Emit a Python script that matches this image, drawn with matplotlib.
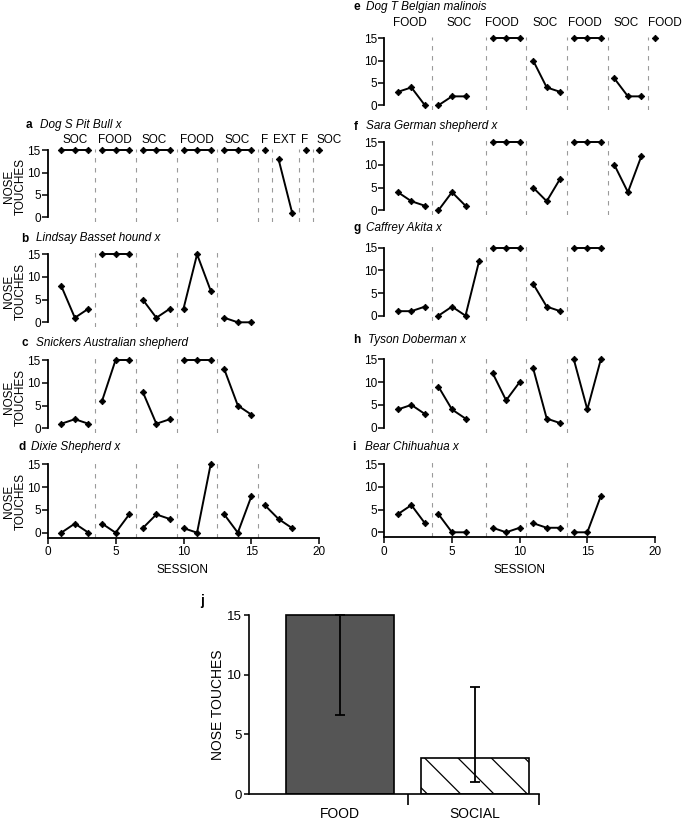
import numpy as np
import matplotlib.pyplot as plt

plt.rcParams['font.family'] = ['Liberation Sans', 'DejaVu Sans']
plt.rcParams['hatch.linewidth'] = 0.9

# ---- data ----
# sessions (grouped by phase) and nose touches per session
sess_a = [[1, 2, 3], [4, 5, 6], [7, 8, 9], [10, 11, 12], [13, 14, 15], [16], [17, 18], [19], [20]]
touch_a = [[15, 15, 15], [15, 15, 15], [15, 15, 15], [15, 15, 15], [15, 15, 15], [15], [13, 1], [15], [15]]
sess_b = [[1, 2, 3], [4, 5, 6], [7, 8, 9], [10, 11, 12], [13, 14, 15]]
touch_b = [[8, 1, 3], [15, 15, 15], [5, 1, 3], [3, 15, 7], [1, 0, 0]]
sess_c = [[1, 2, 3], [4, 5, 6], [7, 8, 9], [10, 11, 12], [13, 14, 15]]
touch_c = [[1, 2, 1], [6, 15, 15], [8, 1, 2], [15, 15, 15], [13, 5, 3]]
sess_d = [[1, 2, 3], [4, 5, 6], [7, 8, 9], [10, 11, 12], [13, 14, 15], [16, 17, 18]]
touch_d = [[0, 2, 0], [2, 0, 4], [1, 4, 3], [1, 0, 15], [4, 0, 8], [6, 3, 1]]
sess_e = [[1, 2, 3], [4, 5, 6], [8, 9, 10], [11, 12, 13], [14, 15, 16], [17, 18, 19], [20]]
touch_e = [[3, 4, 0], [0, 2, 2], [15, 15, 15], [10, 4, 3], [15, 15, 15], [6, 2, 2], [15]]
sess_f = [[1, 2, 3], [4, 5, 6], [8, 9, 10], [11, 12, 13], [14, 15, 16], [17, 18, 19]]
touch_f = [[4, 2, 1], [0, 4, 1], [15, 15, 15], [5, 2, 7], [15, 15, 15], [10, 4, 12]]
sess_g = [[1, 2, 3], [4, 5, 6, 7], [8, 9, 10], [11, 12, 13], [14, 15, 16]]
touch_g = [[1, 1, 2], [0, 2, 0, 12], [15, 15, 15], [7, 2, 1], [15, 15, 15]]
sess_h = [[1, 2, 3], [4, 5, 6], [8, 9, 10], [11, 12, 13], [14, 15, 16]]
touch_h = [[4, 5, 3], [9, 4, 2], [12, 6, 10], [13, 2, 1], [15, 4, 15]]
sess_i = [[1, 2, 3], [4, 5, 6], [8, 9, 10], [11, 12, 13], [14, 15, 16]]
touch_i = [[4, 6, 2], [4, 0, 0], [1, 0, 1], [2, 1, 1], [0, 0, 8]]

# phase boundaries (dashed lines)
bounds_a = [3.5, 6.5, 9.5, 12.5, 15.5, 16.5, 18.5, 19.5]
bounds_bc = [3.5, 6.5, 9.5, 12.5]
bounds_d = [3.5, 6.5, 9.5, 12.5, 15.5]
bounds_e = [3.5, 7.5, 10.5, 13.5, 16.5, 19.5]
bounds_f = [3.5, 7.5, 10.5, 13.5, 16.5]
bounds_ghi = [3.5, 7.5, 10.5, 13.5]

# phase names above panels a and e
phases_a = ["SOC", "FOOD", "SOC", "FOOD", "SOC", "F", "EXT", "F", "SOC"]
phase_x_a = [2.0, 4.95, 7.85, 11.0, 13.95, 15.95, 17.4, 18.9, 20.7]
phases_e = ["FOOD", "SOC", "FOOD", "SOC", "FOOD", "SOC", "FOOD"]
phase_x_e = [1.9, 5.5, 8.7, 11.9, 14.85, 17.9, 20.7]

titles = {
    "a": "Dog S Pit Bull x", "b": "Lindsay Basset hound x",
    "c": "Snickers Australian shepherd", "d": "Dixie Shepherd x",
    "e": "Dog T Belgian malinois", "f": "Sara German shepherd x",
    "g": "Caffrey Akita x", "h": "Tyson Doberman x", "i": "Bear Chihuahua x",
}

# summary panel j
categories = ["FOOD", "SOCIAL"]
medians = [15, 3]
lower = [6.6, 1]
upper = [15, 9]

# ---- layout (pixels) ----
W, H = 685, 822
FS = 8.5
fig = plt.figure(figsize=(W / 100, H / 100), dpi=100)


def panel_rect(x0, x20, y15, y0, ylo=-1.1, yhi=16.0):
    u = (y0 - y15) / 15.0
    top = y15 - (yhi - 15) * u
    bot = y0 - ylo * u
    return [x0 / W, 1 - bot / H, (x20 - x0) / W, (bot - top) / H]


def draw_panel(rect, sess, touch, bounds, bottom_axis):
    ax = fig.add_axes(rect)
    ax.set_xlim(0, 20)
    ax.set_ylim(-1.1, 16)
    for b in bounds:
        ax.plot([b, b], [-1.1, 15.4], color="#9a9a9a", lw=0.8,
                dashes=(4, 5), zorder=1)
    for s, t in zip(sess, touch):
        ax.plot(s, t, color="black", lw=1.4, marker="D", ms=3.3,
                mew=0.6, zorder=3, clip_on=False)
    for side in ["top", "right"]:
        ax.spines[side].set_visible(False)
    ax.spines["left"].set_linewidth(1.3)
    ax.set_yticks([0, 5, 10, 15])
    ax.tick_params(axis="y", length=4, width=1.1, pad=1, labelsize=FS)
    if bottom_axis:
        ax.spines["left"].set_bounds(-1.1, 15)
        ax.spines["bottom"].set_linewidth(1.3)
        ax.set_xticks([0, 5, 10, 15, 20])
        ax.tick_params(axis="x", length=4.5, width=1.1, pad=1.5, labelsize=FS)
    else:
        ax.spines["left"].set_bounds(0, 15)
        ax.spines["bottom"].set_visible(False)
        ax.set_xticks([])
    return ax


LX0, LX20 = 47.7, 319.3
RX0, RX20 = 384.3, 655.0

left_panels = [
    ("a", sess_a, touch_a, bounds_a, 150.3, 217.3, False, 26, 40.5, 125),
    ("b", sess_b, touch_b, bounds_bc, 254.3, 322.3, False, 21.5, 36.5, 238.5),
    ("c", sess_c, touch_c, bounds_bc, 360.0, 428.3, False, 21.5, 36, 343),
    ("d", sess_d, touch_d, bounds_d, 464.3, 532.7, True, 18.5, 31.5, 446.5),
]
right_panels = [
    ("e", sess_e, touch_e, bounds_e, 38.3, 105.3, False, 354, 366.5, 7),
    ("f", sess_f, touch_f, bounds_f, 142.3, 210.3, False, 353.5, 365.5, 126.5),
    ("g", sess_g, touch_g, bounds_ghi, 247.7, 315.7, False, 353.5, 366, 228),
    ("h", sess_h, touch_h, bounds_ghi, 359.3, 427.7, False, 353.5, 368, 340),
    ("i", sess_i, touch_i, bounds_ghi, 464.3, 532.3, True, 352.5, 364.5, 446.5),
]

axes = {}
for key, s, t, bnd, y15, y0, bot, lx, tx, ty in left_panels:
    ax = draw_panel(panel_rect(LX0, LX20, y15, y0), s, t, bnd, bot)
    axes[key] = ax
    fig.text(lx / W, 1 - ty / H, key, fontsize=FS, fontweight="bold", va="center")
    fig.text(tx / W, 1 - ty / H, titles[key], fontsize=FS, style="italic", va="center")
    fig.text(15 / W, 1 - ((y15 + y0) / 2 + 3) / H, "NOSE\nTOUCHES", fontsize=FS,
             rotation=90, ha="center", va="center", linespacing=0.95)

for key, s, t, bnd, y15, y0, bot, lx, tx, ty in right_panels:
    ax = draw_panel(panel_rect(RX0, RX20, y15, y0), s, t, bnd, bot)
    axes[key] = ax
    fig.text(lx / W, 1 - ty / H, key, fontsize=FS, fontweight="bold", va="center")
    fig.text(tx / W, 1 - ty / H, titles[key], fontsize=FS, style="italic", va="center")

for name, px in zip(phases_a, phase_x_a):
    axes["a"].text(px, 17.3, name, fontsize=FS, ha="center", va="center")
for name, px in zip(phases_e, phase_x_e):
    axes["e"].text(px, 18.35, name, fontsize=FS, ha="center", va="center")

fig.text(183 / W, 1 - 570 / H, "SESSION", fontsize=FS, ha="center", va="center")
fig.text(520 / W, 1 - 570 / H, "SESSION", fontsize=FS, ha="center", va="center")

# ---- panel j ----
jx0, jx1, jy15, jy0 = 249, 539, 615, 794
unit_y = (jy0 - jy15) / 15
jtop = jy15 - 0.2 * unit_y
axj = fig.add_axes([jx0 / W, 1 - jy0 / H, (jx1 - jx0) / W, (jy0 - jtop) / H])
xpos = np.arange(len(categories))
axj.set_xlim(-0.674, 1.474)
axj.set_ylim(0, 15.2)
axj.bar(xpos[0], medians[0], width=0.8, color="#555555", edgecolor="black", lw=1.2, zorder=2)
axj.bar(xpos[1], medians[1], width=0.8, color="white", edgecolor="black", lw=1.2,
        hatch="\\", zorder=2)
yerr = np.array([np.array(medians) - np.array(lower), np.array(upper) - np.array(medians)])
axj.errorbar(xpos, medians, yerr=yerr, fmt="none", ecolor="black", elinewidth=1.3,
             capsize=3.5, capthick=1.3, zorder=3)
for side in ["top", "right"]:
    axj.spines[side].set_visible(False)
axj.spines["left"].set_bounds(0, 15)
axj.spines["left"].set_linewidth(1.2)
axj.spines["bottom"].set_linewidth(1.2)
axj.set_yticks([0, 5, 10, 15])
axj.tick_params(axis="y", length=3.5, width=1.1, pad=1.5, labelsize=9.5)
axj.set_xticks(xpos)
axj.set_xticklabels(categories)
axj.tick_params(axis="x", which="major", length=0, pad=9.5, labelsize=10)
axj.set_xticks([0.5, 1.474], minor=True)
axj.tick_params(axis="x", which="minor", length=8, width=1.2)
fig.text(218 / W, 1 - 705 / H, "NOSE TOUCHES", fontsize=10, rotation=90,
         ha="center", va="center")
fig.text(200 / W, 1 - 601 / H, "j", fontsize=10, fontweight="bold", va="center")

fig.savefig("out.png", dpi=100)
